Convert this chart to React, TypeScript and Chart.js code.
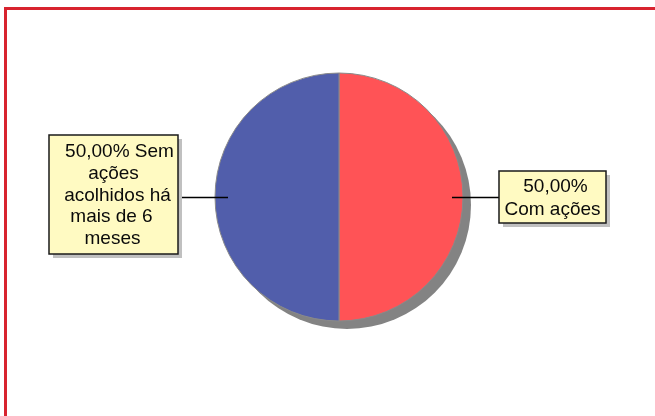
import React, { useEffect, useRef } from "react";
import { Chart, registerables } from "chart.js";

Chart.register(...registerables);

const categories = ["Com ações", "Sem ações acolhidos há mais de 6 meses"];
const values = [50, 50];
const colors = ["#FF5356", "#515EAB"];
// label text lines (after the percentage)
const labelLines = [
  ["Com ações"],
  ["Sem", "ações", "acolhidos há", "mais de 6", "meses"],
];

const fmtPct = (v: number, total: number) =>
  (v / total * 100).toFixed(2).replace(".", ",") + "%";

const decorPlugin = {
  id: "decor",
  beforeDraw(chart: any) {
    const ctx = chart.ctx;
    ctx.save();
    ctx.fillStyle = "#ffffff";
    ctx.fillRect(0, 0, chart.width, chart.height);
    ctx.strokeStyle = "#D8232F";
    ctx.lineWidth = 3;
    ctx.strokeRect(5.5, 8.5, chart.width + 20, chart.height + 20);
    ctx.restore();
  },
  beforeDatasetsDraw(chart: any) {
    const arc = chart.getDatasetMeta(0).data[0];
    if (!arc) return;
    const { x, y, outerRadius } = arc.getProps(["x", "y", "outerRadius"], true);
    const ctx = chart.ctx;
    ctx.save();
    ctx.fillStyle = "#838383";
    ctx.beginPath();
    ctx.arc(x + 8, y + 8, outerRadius, 0, Math.PI * 2);
    ctx.fill();
    ctx.restore();
  },
  afterDatasetsDraw(chart: any) {
    const arc = chart.getDatasetMeta(0).data[0];
    if (!arc) return;
    const { x: cx, y: cy, outerRadius: r } = arc.getProps(["x", "y", "outerRadius"], true);
    const ctx = chart.ctx;
    const total = values.reduce((a, b) => a + b, 0);
    const font = "19px 'Liberation Sans', Arial, sans-serif";

    const boxes = [
      {
        x0: cx + 160, x1: cx + 267, y0: cy - 26, y1: cy + 26,
        lines: [fmtPct(values[0], total), ...labelLines[0]],
        lineFrom: cx + r - 11, lineTo: cx + 160, lh: 23, tx: [3, 0],
      },
      {
        x0: cx - 290, x1: cx - 161, y0: cy - 62, y1: cy + 57,
        lines: [fmtPct(values[1], total) + " " + labelLines[1][0], ...labelLines[1].slice(1)],
        lineFrom: cx - r + 13, lineTo: cx - 161, lh: 21.7, tx: [6, 0, 4, -2, -1],
      },
    ];

    ctx.save();
    for (const b of boxes) {
      // leader line
      ctx.strokeStyle = "#000";
      ctx.lineWidth = 1.4;
      ctx.beginPath();
      ctx.moveTo(b.lineFrom, Math.round(cy) + 0.5);
      ctx.lineTo(b.lineTo, Math.round(cy) + 0.5);
      ctx.stroke();
      // shadow
      ctx.fillStyle = "#C0C0C0";
      ctx.fillRect(b.x0 + 4, b.y0 + 4, b.x1 - b.x0, b.y1 - b.y0);
      // box
      ctx.fillStyle = "#FFFAC2";
      ctx.fillRect(b.x0, b.y0, b.x1 - b.x0, b.y1 - b.y0);
      ctx.strokeStyle = "#1a1a1a";
      ctx.lineWidth = 1.5;
      ctx.strokeRect(b.x0, b.y0, b.x1 - b.x0, b.y1 - b.y0);
      // text
      ctx.fillStyle = "#0a0a0a";
      ctx.font = font;
      ctx.textAlign = "center";
      ctx.textBaseline = "middle";
      const mid = (b.y0 + b.y1) / 2;
      const n = b.lines.length;
      b.lines.forEach((t: string, i: number) => {
        ctx.fillText(t, (b.x0 + b.x1) / 2 + (b.tx[i] || 0), mid + (i - (n - 1) / 2) * b.lh + 1);
      });
    }
    ctx.restore();
  },
};

export default function App() {
  const ref = useRef<HTMLCanvasElement | null>(null);
  useEffect(() => {
    if (!ref.current) return;
    const chart = new Chart(ref.current, {
      type: "pie",
      data: {
        labels: categories,
        datasets: [
          {
            data: values,
            backgroundColor: colors,
            borderColor: "#8a8a8a",
            borderWidth: 1,
            radius: 124,
          },
        ],
      },
      options: {
        responsive: false,
        animation: false,
        devicePixelRatio: 1,
        layout: { padding: { left: 23, right: 0, top: 0, bottom: 22 } },
        plugins: {
          legend: { display: false },
          tooltip: { enabled: false },
          title: { display: false },
        },
      },
      plugins: [decorPlugin],
    });
    return () => chart.destroy();
  }, []);
  return (
    <div style={{ position: "fixed", left: 0, top: 0, width: 655, height: 416, background: "#fff" }}>
      <canvas ref={ref} width={655} height={416} style={{ display: "block" }} />
    </div>
  );
}
